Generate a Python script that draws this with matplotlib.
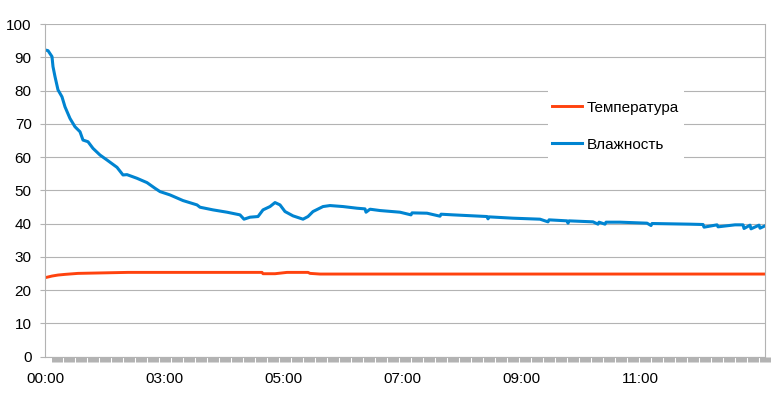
import matplotlib
matplotlib.use("Agg")
import matplotlib.pyplot as plt
from matplotlib.patches import Rectangle
from matplotlib.ticker import FixedLocator

plt.rcParams["font.family"] = ["Liberation Sans", "DejaVu Sans"]

# sample index of each reading (logger sample number)
HUM_X = [0, 3, 7, 8, 10, 13, 17, 20, 25, 30, 35, 38, 43, 48, 55, 62, 72, 78, 82,
         92, 102, 110, 115, 125, 138, 152, 155, 168, 182, 195, 199, 205, 213,
         218, 225, 230, 235, 240, 248, 258, 263, 268, 278, 285, 298, 312, 320,
         321, 325, 335, 355, 366, 367, 382, 395, 396, 408, 442, 443, 444, 468,
         495, 503, 504, 522, 523, 524, 548, 553, 554, 560, 561, 575, 602, 606,
         607, 645, 658, 659, 672, 673, 690, 698, 699, 705, 706, 714, 715, 720]
HUMIDITY = [92.2, 92.0, 90.2, 87.2, 84.2, 80.2, 78.1, 75.1, 71.6, 69.1, 67.6,
            65.1, 64.6, 62.6, 60.6, 59.1, 56.9, 54.6, 54.7, 53.6, 52.3, 50.6,
            49.6, 48.6, 46.9, 45.6, 44.9, 44.1, 43.4, 42.6, 41.3, 41.9, 42.1,
            44.1, 45.1, 46.3, 45.6, 43.6, 42.3, 41.3, 42.1, 43.6, 45.1, 45.4,
            45.1, 44.6, 44.4, 43.4, 44.3, 43.9, 43.4, 42.6, 43.2, 43.1, 42.2,
            42.8, 42.6, 42.1, 41.4, 42.0, 41.6, 41.3, 40.5, 41.1, 40.8, 40.1,
            40.8, 40.5, 39.8, 40.4, 39.8, 40.4, 40.4, 40.1, 39.4, 40.0, 39.8,
            39.7, 38.9, 39.6, 39.0, 39.6, 39.6, 38.5, 39.5, 38.4, 39.5, 38.6,
            39.3]

TEMP_X = [0, 7, 13, 20, 33, 83, 217, 218, 230, 242, 263, 265, 275, 720]
TEMPERATURE = [23.7, 24.2, 24.5, 24.7, 25.0, 25.3, 25.3, 24.9, 24.9, 25.3,
               25.3, 25.0, 24.8, 24.8]

TICK_POS = [0, 119, 238, 357, 476, 595]
TICK_LABELS = ["00:00", "03:00", "05:00", "07:00", "09:00", "11:00"]

GRID = "#b3b3b3"


def main():
    fig = plt.figure(figsize=(7.77, 3.97), dpi=100)
    ax = fig.add_axes([0.0579, 0.102, 0.9267, 0.8375])

    ax.plot(TEMP_X, TEMPERATURE, color="#ff420e", lw=2.1, label="Температура",
            solid_joinstyle="round")
    ax.plot(HUM_X, HUMIDITY, color="#0084d1", lw=2.2, label="Влажность",
            solid_joinstyle="round")

    ax.set_xlim(0, 720)
    ax.set_ylim(0, 100)
    ax.set_yticks(range(0, 101, 10))
    ax.grid(axis="y", color=GRID, lw=0.8)
    ax.set_axisbelow(True)

    ax.set_xticks(TICK_POS)
    ax.set_xticklabels(TICK_LABELS)
    ax.xaxis.set_minor_locator(FixedLocator(range(0, 721, 12)))
    ax.tick_params(axis="x", which="major", length=0, pad=11, labelsize=11)
    ax.tick_params(axis="x", which="minor", length=3.8, width=7.9, color=GRID)
    ax.tick_params(axis="y", length=3.6, width=0.8, color=GRID, pad=6,
                   labelsize=11)

    for side in ["left", "right", "bottom"]:
        ax.spines[side].set_color(GRID)
        ax.spines[side].set_linewidth(0.8)
    ax.spines["top"].set_visible(False)

    # white backdrop of the legend (wider vertically than horizontally)
    ax.add_patch(Rectangle((0.6986, 0.555), 0.189, 0.277,
                           transform=ax.transAxes, facecolor="white",
                           edgecolor="none", zorder=1.5))
    ax.legend(loc="center left", bbox_to_anchor=(0.704, 0.693),
              frameon=False, fontsize=11, borderpad=0, borderaxespad=0,
              handlelength=2.0, handletextpad=0.25, labelspacing=1.5)

    fig.savefig("out.png", dpi=100)


if __name__ == "__main__":
    main()
